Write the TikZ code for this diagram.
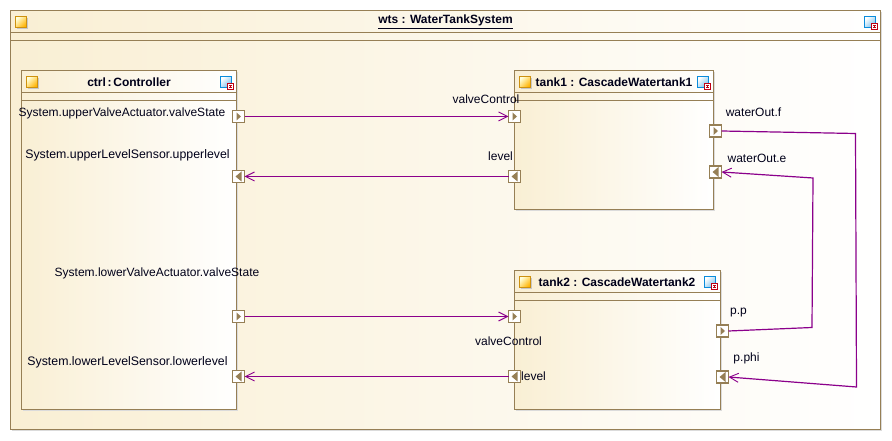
\documentclass[tikz,border=0pt]{standalone}
\usepackage{fontspec}
\setmainfont{Liberation Sans}
\usetikzlibrary{arrows.meta}

\definecolor{frameline}{RGB}{150,127,85}
\definecolor{cream}{RGB}{249,239,212}
\definecolor{wire}{RGB}{139,0,139}
\definecolor{iconline}{RGB}{205,145,15}
\definecolor{iconblue}{RGB}{10,140,220}
\definecolor{iconred}{RGB}{190,0,20}
\def\px{0.75pt}

\tikzset{
  block/.style={draw=frameline,line width=1.2*\px,left color=cream,right color=white,anchor=north west,inner sep=0pt,outer sep=0pt},
  backing/.style={fill=black!14,draw=none,anchor=north west,inner sep=0pt,outer sep=0pt},
  port/.style={draw=frameline,line width=1.2*\px,fill=white,minimum size=12*\px,inner sep=0pt,outer sep=0pt},
  outport/.style={port,path picture={\fill[frameline] ([xshift=-2*\px,yshift=4*\px]path picture bounding box.center) -- ++(4.5*\px,-4*\px) -- ++(-4.5*\px,-4*\px) -- cycle;}},
  inport/.style={port,path picture={\fill[frameline] ([xshift=3*\px,yshift=5*\px]path picture bounding box.center) -- ++(-6*\px,-5*\px) -- ++(6*\px,-5*\px) -- cycle;}},
  sticker/.style={draw=iconline,line width=\px,minimum size=11*\px,inner sep=0pt,outer sep=0pt,top color=white!85!yellow,bottom color=orange!60!yellow,shading angle=45},
  expander/.style={draw=iconblue,line width=\px,minimum size=11*\px,inner sep=0pt,outer sep=0pt,top color=white,bottom color=iconblue!55,shading angle=45},
  stamp/.style={draw=iconred,line width=\px,fill=white,minimum size=5.5*\px,inner sep=0pt,outer sep=0pt},
  lbl/.style={font=\fontsize{9}{11}\selectfont,inner sep=0pt,text=black!90!blue},
  lblwide/.style={font=\fontsize{9.25}{11}\selectfont,inner sep=0pt,text=black!90!blue},
  title/.style={font=\fontsize{9}{11}\selectfont\bfseries,inner sep=0pt,text=black!90!blue},
  rule/.style={draw=frameline,line width=1.2*\px},
  link/.style={draw=wire,line width=1.2*\px,-{Straight Barb[length=9*\px,width=9*\px,line width=.9*\px]}}
}

\begin{document}
\begin{tikzpicture}[x=\px,y=-\px]
\useasboundingbox (0,0) rectangle (892,441);

% frames
\node[backing,minimum width=870*\px,minimum height=419*\px] (wtsback) at (12,12) {};
\node[block,minimum width=870*\px,minimum height=419*\px] (wts) at (10.5,10.5) {};
\draw[rule] (10.5,32.5) -- (880.5,32.5);
\draw[rule] (10.5,40.5) -- (880.5,40.5);

\node[backing,minimum width=215*\px,minimum height=339*\px] (ctrlback) at (23,72) {};
\node[block,minimum width=215*\px,minimum height=339*\px] (ctrl) at (21.5,70.5) {};
\draw[rule] (21.5,92.5) -- (236.5,92.5);
\draw[rule] (21.5,100.5) -- (236.5,100.5);

\node[backing,minimum width=199*\px,minimum height=139*\px] (tankAback) at (516,72) {};
\node[block,minimum width=199*\px,minimum height=139*\px] (tankA) at (514.5,70.5) {};
\draw[rule] (514.5,92.5) -- (713.5,92.5);
\draw[rule] (514.5,100.5) -- (713.5,100.5);

\node[backing,minimum width=206*\px,minimum height=139*\px] (tankBback) at (516,272) {};
\node[block,minimum width=206*\px,minimum height=139*\px] (tankB) at (514.5,270.5) {};
\draw[rule] (514.5,292.5) -- (720.5,292.5);
\draw[rule] (514.5,300.5) -- (720.5,300.5);

% corner icons
\foreach \name/\xa/\ya in {wts/21/22,ctrl/32/82,tankA/525/82,tankB/525/282}{
  \node[fill=black!22,minimum size=11*\px,inner sep=0pt] (\name shadow) at (\xa+1.5,\ya+1.5) {};
  \node[sticker] (\name sticker) at (\xa,\ya) {};
}
\foreach \name/\xa/\ya in {wts/870/22,ctrl/226/82,tankA/703/82,tankB/710/282}{
  \node[expander] (\name expand) at (\xa,\ya) {};
  \node[stamp] (\name stamp) at (\xa+4.5,\ya+4.5) {};
  \draw[iconred,line width=.8*\px] (\xa+3,\ya+3.2) -- (\xa+6,\ya+3.2) (\xa+4.5,\ya+3.2) -- (\xa+4.5,\ya+5.8) (\xa+3,\ya+5.8) -- (\xa+6,\ya+5.8);
}

% titles
\node[title] (wtsname) at (445.5,22) {\underline{wts : WaterTankSystem}};
\node[title] (ctrlname) at (129,82) {ctrl\hspace{1.3pt}:\hspace{1.3pt}Controller};
\node[title] (tankAname) at (614,82) {tank1 : CascadeWatertank1};
\node[title] (tankBname) at (617,282) {tank2 : CascadeWatertank2};

% ports
\node[outport] (ctrlvalveA) at (238.5,116.5) {};
\node[inport] (ctrllevelA) at (238.5,176.5) {};
\node[outport] (ctrlvalveB) at (238.5,316.5) {};
\node[inport] (ctrllevelB) at (238.5,376.5) {};
\node[outport] (tankAvalve) at (514.5,116.5) {};
\node[inport] (tankAlevel) at (514.5,176.5) {};
\node[outport] (tankAout) at (715.5,131) {};
\node[inport] (tankAin) at (715.5,172) {};
\node[outport] (tankBvalve) at (514.5,316.5) {};
\node[inport] (tankBlevel) at (514.5,376.5) {};
\node[outport] (tankBp) at (722.5,331) {};
\node[inport] (tankBphi) at (722.5,377) {};

% port labels
\node[lbl] (lblvalveA) at (122,113.5) {System.upperValveActuator.valveState};
\node[lblwide] (lbllevelA) at (127.5,155.5) {System.upperLevelSensor.upperlevel};
\node[lbl] (lblvalveB) at (157,273.5) {System.lowerValveActuator.valveState};
\node[lblwide] (lbllevelB) at (127.5,362.5) {System.lowerLevelSensor.lowerlevel};
\node[lbl] (lblAvalve) at (486,99.5) {valveControl};
\node[lbl] (lblAlevel) at (500.5,156.5) {level};
\node[lbl] (lblAout) at (753.5,112) {waterOut.f};
\node[lbl] (lblAin) at (757,158.5) {waterOut.e};
\node[lbl] (lblBvalve) at (508.5,341.5) {valveControl};
\node[lbl] (lblBlevel) at (533.5,376.5) {level};
\node[lbl] (lblBp) at (738.5,313) {p.p};
\node[lbl] (lblBphi) at (746.5,358.5) {p.phi};

% connectors
\coordinate (bendfa) at (855.5,133.5);
\coordinate (bendfb) at (856.5,387);
\coordinate (bendpa) at (812,327.5);
\coordinate (bendpb) at (813,178);
\draw[link] (ctrlvalveA) -- (tankAvalve);
\draw[link] (tankAlevel) -- (ctrllevelA);
\draw[link] (ctrlvalveB) -- (tankBvalve);
\draw[link] (tankBlevel) -- (ctrllevelB);
\draw[link] (tankAout.east) -- (bendfa) -- (bendfb) -- (tankBphi.east);
\draw[link] (tankBp.east) -- (bendpa) -- (bendpb) -- (tankAin.east);
\end{tikzpicture}
\end{document}
